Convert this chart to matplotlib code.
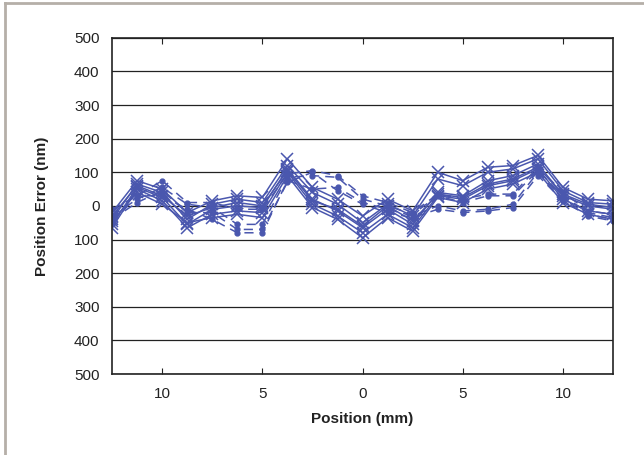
import matplotlib
matplotlib.use('Agg')
import matplotlib.pyplot as plt
from matplotlib.lines import Line2D
import numpy as np

plt.rcParams['font.family'] = ['Liberation Sans', 'DejaVu Sans']

# positions (mm), 1.25 mm steps
position = [-12.5, -11.25, -10, -8.75, -7.5, -6.25, -5, -3.75, -2.5, -1.25, 0,
            1.25, 2.5, 3.75, 5, 6.25, 7.5, 8.75, 10, 11.25, 12.5]

# solid runs (x markers), nm
solid_runs = [
    [-20, 75, 50, -20, 15, 30, 25, 140, 55, 20, -30, 20, -15, 100, 75, 115, 120, 150, 55, 20, 15],
    [-40, 65, 40, -40, 5, 20, 10, 120, 40, 5, -50, 5, -30, 80, 60, 100, 110, 140, 45, 10, 5],
    [-55, 55, 25, -55, -10, 0, -5, 110, 20, -15, -65, -10, -55, 40, 30, 75, 90, 125, 30, 0, -10],
    [-65, 50, 15, -65, -25, -15, -20, 100, 5, -30, -80, -25, -65, 30, 20, 60, 75, 110, 20, -15, -25],
    [-45, 40, 5, -50, -35, -25, -35, 90, -5, -40, -95, -35, -75, 25, 10, 50, 65, 100, 10, -25, -40],
    [-30, 60, 30, -30, -5, 10, 0, 105, 15, -10, -60, 0, -45, 35, 25, 65, 80, 115, 35, 5, -5],
]

# dashed runs (dot markers), nm
dashed_runs = [
    [-10, 30, 75, 10, 10, -10, -10, 95, 105, 90, 30, 10, -20, 35, 20, 35, 35, 115, 40, -15, -25],
    [-30, 20, 55, 5, -5, -55, -55, 85, 90, 85, 20, 0, -25, 30, 10, 30, 30, 105, 30, -20, -35],
    [-50, 30, 30, -10, -40, -80, -80, 75, 50, 55, 10, -10, -30, 0, -15, -10, 5, 100, 20, -25, -40],
    [-40, 10, 45, -20, -20, -70, -70, 70, 100, 45, 5, -20, -35, -10, -20, -15, -5, 90, 15, -30, -45],
]

x_ticks = [-10, -5, 0, 5, 10]
x_tick_labels = ['10', '5', '0', '5', '10']
y_ticks = [-500, -400, -300, -200, -100, 0, 100, 200, 300, 400, 500]
y_tick_labels = ['500', '400', '300', '200', '100', '0', '100', '200', '300', '400', '500']

color = '#4a57ae'

fig = plt.figure(figsize=(6.44, 4.55), dpi=100)
ax = fig.add_axes([0.174, 0.178, 0.778, 0.739])

for run in solid_runs:
    ax.plot(position, run, '-', color=color, lw=1.1, marker='x', ms=8, mew=1.1)
for run in dashed_runs:
    ax.plot(position, run, color=color, lw=1.1, ls=(0, (6, 4)), marker='o', ms=3.5)

ax.set_xlim(-12.5, 12.5)
ax.set_ylim(-500, 500)
ax.set_xticks(x_ticks)
ax.set_xticklabels(x_tick_labels)
ax.set_yticks(y_ticks)
ax.set_yticklabels(y_tick_labels)
ax.tick_params(axis='both', labelsize=11, colors='#222222', direction='in')
ax.tick_params(axis='x', top=True, length=4, pad=9)
ax.tick_params(axis='y', length=0, pad=9)
ax.yaxis.grid(True, color='#222222', lw=0.9)
ax.set_axisbelow(True)
for sp in ax.spines.values():
    sp.set_color('#222222')
    sp.set_linewidth(1.2)

ax.set_xlabel('Position (mm)', fontsize=11, fontweight='bold', color='#222222', labelpad=8)
ax.set_ylabel('Position Error (nm)', fontsize=11, fontweight='bold', color='#222222', labelpad=18)

# light gray frame along top and left edges
fig.add_artist(Line2D([0.008, 0.008], [0, 0.993], color='#b5afa8', lw=2))
fig.add_artist(Line2D([0.008, 1], [0.993, 0.993], color='#b5afa8', lw=2))

fig.savefig('out.png', dpi=100)
